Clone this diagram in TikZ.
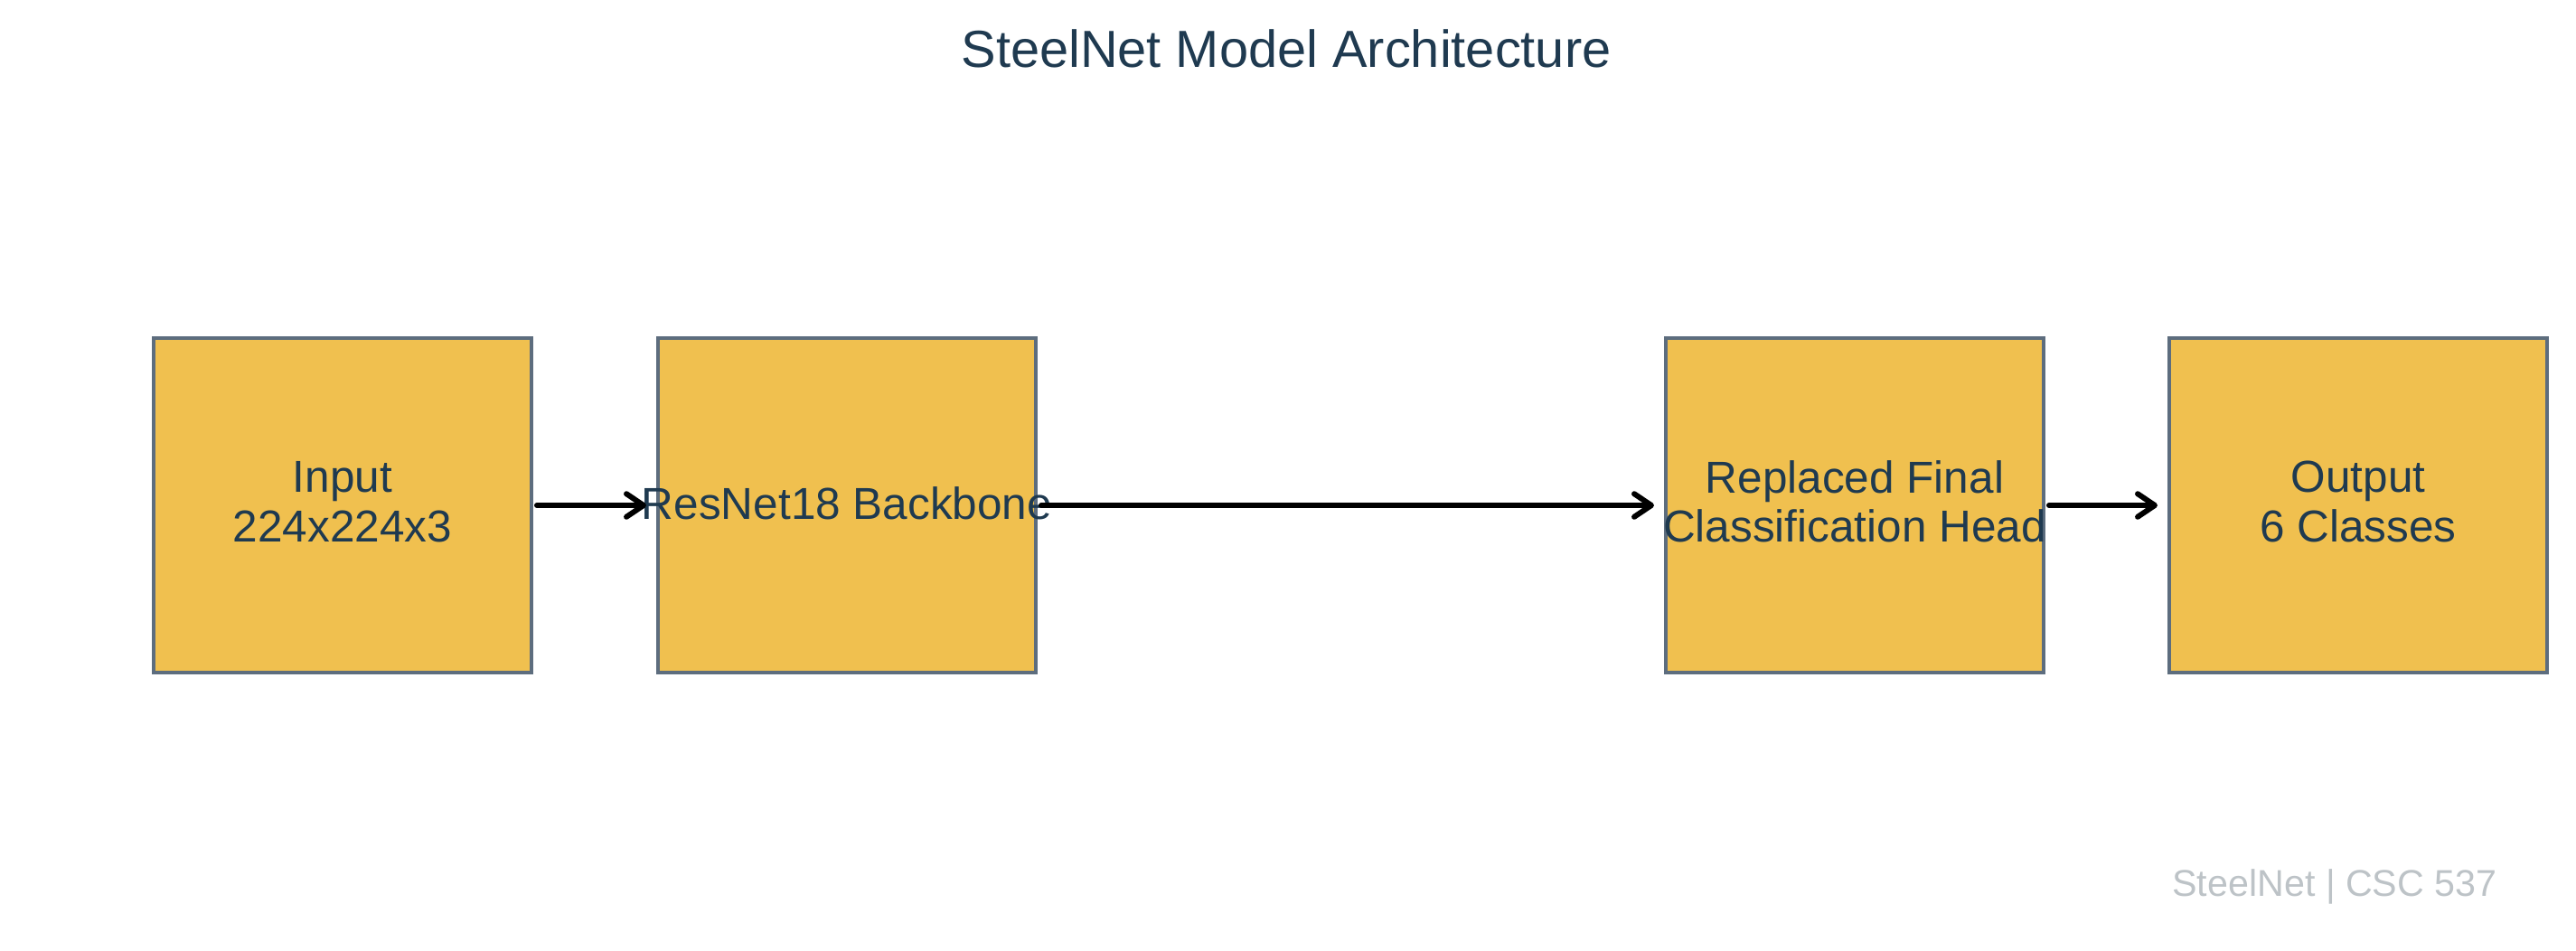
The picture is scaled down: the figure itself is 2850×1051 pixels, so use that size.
\documentclass[tikz,border=0pt]{standalone}
\usepackage{fontspec}
\setmainfont{Liberation Sans}
\usetikzlibrary{arrows.meta}
\definecolor{boxfill}{HTML}{F0C04F}
\definecolor{boxline}{HTML}{5D6D7E}
\definecolor{txt}{HTML}{1F3A50}
\definecolor{foot}{HTML}{BDC3C7}
\begin{document}
\begin{tikzpicture}[x=0.24242pt,y=-0.24242pt,
  blk/.style={draw=boxline, fill=boxfill, line width=1pt, minimum width=418*0.24242pt, minimum height=370*0.24242pt, inner sep=0pt, outer sep=0pt},
  lbl/.style={text=txt, font=\fontsize{12}{13.2}\selectfont, align=center, inner sep=0pt},
  conn/.style={line width=1.45pt, draw=black, line cap=round, -{Straight Barb[round,length=4.6pt,width=6.2pt]}, shorten <=6*0.24242pt, shorten >=13*0.24242pt}]
\useasboundingbox (0,0) rectangle (2850,1051);
\node[blk] (b1) at (379,559) {};
\node[blk] (b2) at (937,559) {};
\node[blk] (b3) at (2052,559) {};
\node[blk] (b4) at (2609,559) {};
\node[lbl] (t1) at (379,555) {Input\\224x224x3};
\node[lbl] (t2) at (937,557) {ResNet18 Backbone};
\node[lbl] (t3) at (2052,555) {Replaced Final\\Classification Head};
\node[lbl] (t4) at (2609,555) {Output\\6 Classes};
\draw[conn] (b1.east) -- (b2.west);
\draw[conn] (b2.east) -- (b3.west);
\draw[conn] (b3.east) -- (b4.west);
\node[text=txt, font=\fontsize{14}{16}\selectfont, inner sep=0pt] (title) at (1423,54) {SteelNet Model Architecture};
\node[text=foot, font=\fontsize{10}{12}\selectfont, inner sep=0pt] (footer) at (2583,981) {SteelNet | CSC 537};
\end{tikzpicture}
\end{document}
